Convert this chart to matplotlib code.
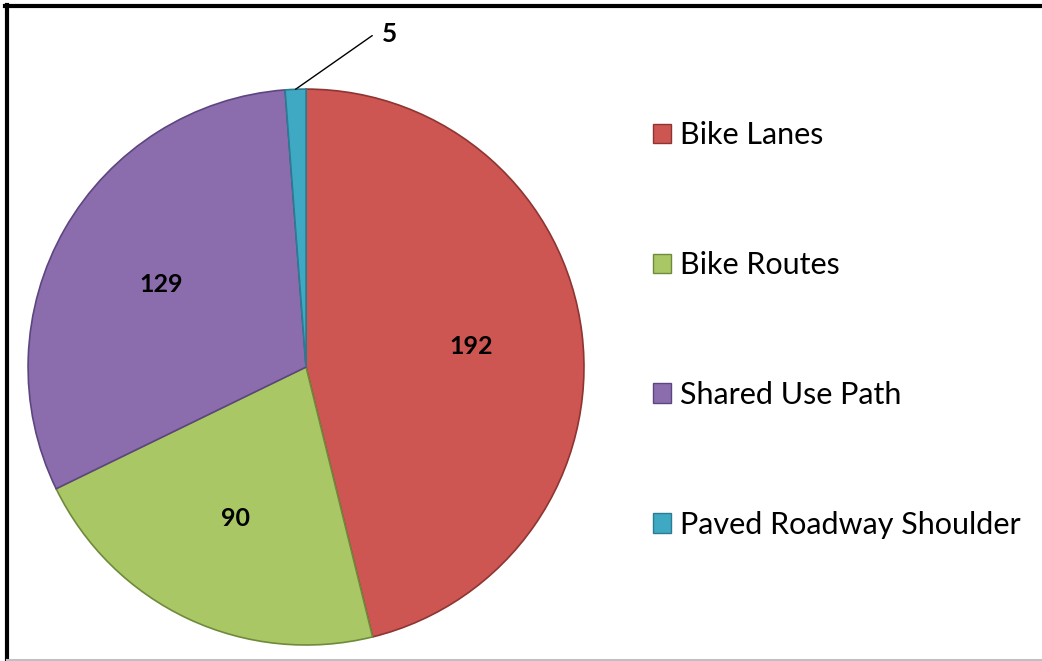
import matplotlib
matplotlib.use("Agg")
import matplotlib.pyplot as plt
from matplotlib.lines import Line2D
from matplotlib.patches import Patch
import numpy as np

categories = ["Bike Lanes", "Bike Routes", "Shared Use Path", "Paved Roadway Shoulder"]
values = [192, 90, 129, 5]
colors = ["#CD5552", "#A9C865", "#8B6DAE", "#3FA9C4"]
edges = ["#8E3532", "#6E8A3A", "#5D4680", "#2A7C92"]

plt.rcParams['font.family'] = ['Lato', 'DejaVu Sans']

fig = plt.figure(figsize=(10.42, 6.61), dpi=100)
ax = fig.add_axes([0.0269, 0.0242, 0.5336, 0.841])

wedges, texts, autotexts = ax.pie(
    values, colors=colors, startangle=90, counterclock=False,
    autopct=lambda p: "", pctdistance=0.6,
    wedgeprops=dict(edgecolor="none", linewidth=0))
for w, ec in zip(wedges, edges):
    w.set_edgecolor(ec)
    w.set_linewidth(1.2)

# data labels inside the big slices, outside for the tiny one
for w, v, t in zip(wedges, values, autotexts):
    if v < 20:
        t.set_visible(False)
        ang = np.deg2rad((w.theta1 + w.theta2) / 2)
        x, y = np.cos(ang), np.sin(ang)
        ax.annotate(str(v), xy=(x, y), xytext=(x + 0.31, y + 0.20),
                    fontsize=19, fontweight='bold', va='center', ha='left',
                    arrowprops=dict(arrowstyle='-', color='black', lw=1,
                                    shrinkA=5, shrinkB=0,
                                    connectionstyle="angle,angleA=0,angleB=35,rad=0"))
    else:
        t.set_text(str(v))
        t.set_fontsize(18)
        t.set_fontweight('bold')
ax.set_xlim(-1, 1)
ax.set_ylim(-1, 1)
ax.set_aspect('equal')

handles = [Patch(facecolor=c, edgecolor=e, linewidth=1) for c, e in zip(colors, edges)]
fig.legend(handles, categories, loc='upper left', bbox_to_anchor=(0.6, 0.858),
           frameon=False, fontsize=22, labelspacing=3.33,
           handlelength=0.6, handleheight=0.6, handletextpad=0.3)

# frame lines like the original screenshot
fig.add_artist(Line2D([0.005, 1.0], [0.991, 0.991], color='black', lw=3, transform=fig.transFigure))
fig.add_artist(Line2D([0.0067, 0.0067], [0.0, 0.993], color='black', lw=3, transform=fig.transFigure))
fig.add_artist(Line2D([0.0067, 1.0], [0.002, 0.002], color='#C0C0C0', lw=1.5, transform=fig.transFigure))

fig.savefig("out.png", dpi=100)
